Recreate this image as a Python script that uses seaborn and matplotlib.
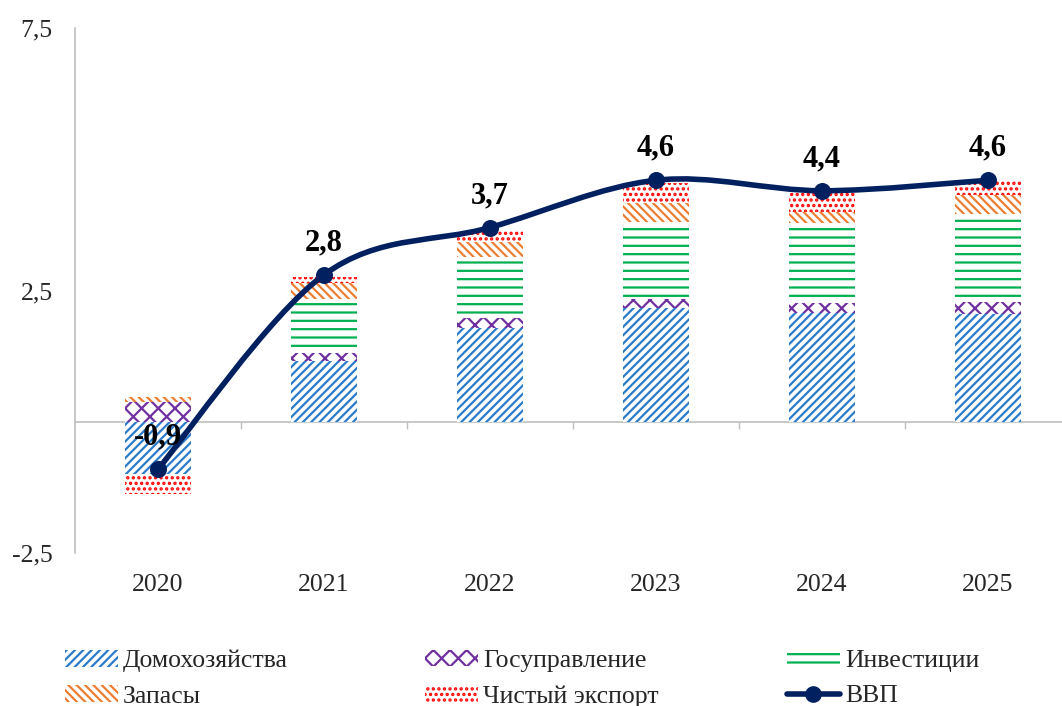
import numpy as np
import matplotlib
matplotlib.use("Agg")
import matplotlib.pyplot as plt
import seaborn as sns
from matplotlib.path import Path
from matplotlib.patches import PathPatch, Patch
from matplotlib.lines import Line2D

# ── Data ──────────────────────────────────────────────────
years        = ["2020", "2021", "2022", "2023", "2024", "2025"]
households   = [-1.00, 1.16, 1.79, 2.16, 2.08, 2.06]
government   = [0.37, 0.15, 0.19, 0.17, 0.19, 0.23]
investment   = [0.00, 1.03, 1.15, 1.47, 1.51, 1.66]
inventories  = [0.10, 0.31, 0.29, 0.36, 0.21, 0.36]
net_export   = [-0.38, 0.11, 0.23, 0.38, 0.36, 0.29]
gdp          = [-0.9, 2.8, 3.7, 4.6, 4.4, 4.6]

y_ticks      = [-2.5, 2.5, 7.5]

# ── Style ─────────────────────────────────────────────────
sns.set_style("white")
plt.rcParams["font.family"] = ["Liberation Serif", "DejaVu Serif"]
plt.rcParams["hatch.linewidth"] = 1.6

COLORS = {
    "hh"   : "#2A7BCB",
    "gov"  : "#7030A0",
    "inv"  : "#00B050",
    "inv_s": "#ED7D31",
    "nx"   : "#FF0000",
    "gdp"  : "#002060",
    "axis" : "#BFBFBF",
}

series = [
    ("Домохозяйства",  households,  COLORS["hh"],    "////"),
    ("Госуправление",  government,  COLORS["gov"],   "xx"),
    ("Инвестиции",     investment,  COLORS["inv"],   "--"),
    ("Запасы",         inventories, COLORS["inv_s"], "\\\\\\\\"),
    ("Чистый экспорт", net_export,  COLORS["nx"],    "..."),
]

W, H = 1062, 706
fig = plt.figure(figsize=(W / 100, H / 100), dpi=100)
ax = fig.add_axes([75 / W, 1 - 553 / H, (W - 75) / W, (553 - 28) / H])

x = np.arange(len(years))
pos_bottom = np.zeros(len(years))
neg_bottom = np.zeros(len(years))

# ── Stacked bars ──────────────────────────────────────────
for label, vals, color, hatch in series:
    vals = np.array(vals, dtype=float)
    bottoms = np.where(vals >= 0, pos_bottom, neg_bottom)
    ax.bar(x, vals, width=0.4, bottom=bottoms, facecolor="white",
           edgecolor=color, linewidth=0, hatch=hatch, zorder=2)
    pos_bottom += np.where(vals >= 0, vals, 0)
    neg_bottom += np.where(vals < 0, vals, 0)

# ── Smoothed GDP line (Bezier through the points) ─────────
pts = np.column_stack([x, gdp]).astype(float)
n = len(pts)
verts = [pts[0]]
codes = [Path.MOVETO]
for i in range(n - 1):
    p0 = pts[i - 1] if i > 0 else pts[i]
    p1 = pts[i]
    p2 = pts[i + 1]
    p3 = pts[i + 2] if i + 2 < n else pts[i + 1]
    c1 = p1 + (p2 - p0) / 6
    c2 = p2 - (p3 - p1) / 6
    verts += [c1, c2, p2]
    codes += [Path.CURVE4] * 3
ax.add_patch(PathPatch(Path(verts, codes), fill=False, edgecolor=COLORS["gdp"],
                       linewidth=4, capstyle="round", zorder=4))

sns.scatterplot(x=x, y=gdp, ax=ax, color=COLORS["gdp"], s=150,
                edgecolor=COLORS["gdp"], linewidth=0, zorder=5, legend=False)

for xi, v in zip(x, gdp):
    ax.annotate(f"{v:.1f}".replace(".", ","), (xi, v), xytext=(0, 23),
                textcoords="offset points", ha="center", va="center",
                fontsize=22, fontweight="bold", color="black", zorder=6)

# ── Axes ──────────────────────────────────────────────────
ax.set_xlim(-0.5, (W - 75) / 166 - 0.5)
ax.set_ylim(-2.5, 7.5)
ax.set_yticks(y_ticks)
ax.set_yticklabels([f"{t:.1f}".replace(".", ",") for t in y_ticks])
ax.tick_params(axis="y", direction="out", length=5, width=1,
               color=COLORS["axis"], labelsize=18.5, pad=11)
ax.set_xticks(x)
ax.set_xticklabels(years)
ax.tick_params(axis="x", length=0, labelsize=18.5, pad=15)

for side in ["top", "right", "bottom"]:
    ax.spines[side].set_visible(False)
ax.spines["left"].set_color(COLORS["axis"])
ax.spines["left"].set_linewidth(1.2)

# zero line with category separators
sec = ax.secondary_xaxis(0.25)
sec.set_xticks(x[:-1] + 0.5)
sec.set_xticklabels([])
sec.tick_params(direction="out", length=5, width=1, color=COLORS["axis"])
sec.spines["bottom"].set_color(COLORS["axis"])
sec.spines["bottom"].set_linewidth(1.2)
sec.set_zorder(1)

# ── Legend (three columns) ────────────────────────────────
handles = {lab: Patch(facecolor="white", edgecolor=c, linewidth=0, hatch=h)
           for lab, _, c, h in series}
handles["ВВП"] = Line2D([], [], color=COLORS["gdp"], linewidth=4,
                        marker="o", markersize=11)
columns = [
    (65,  ["Домохозяйства", "Запасы"]),
    (425, ["Госуправление", "Чистый экспорт"]),
    (787, ["Инвестиции", "ВВП"]),
]
for xpix, labs in columns:
    leg = fig.legend([handles[l] for l in labs], labs,
                     loc="upper left", bbox_to_anchor=(xpix / W, 1 - 650 / H),
                     frameon=False, fontsize=18.5, borderpad=0, borderaxespad=0,
                     handlelength=2.05, handleheight=0.6, handletextpad=0.2,
                     labelspacing=0.5)

fig.savefig("out.png", dpi=100, facecolor="white")
